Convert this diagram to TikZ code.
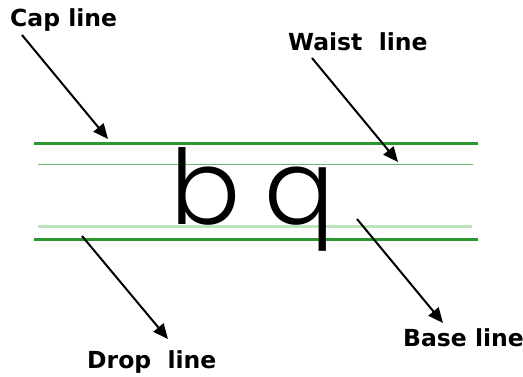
\documentclass[tikz,border=0pt]{standalone}
\usepackage{fontspec}
\setmainfont{DejaVu Sans}
\newfontfamily\letterfont{Poppins Light}
\usetikzlibrary{arrows.meta}
\definecolor{darkgr}{RGB}{46,150,46}
\definecolor{midgr}{RGB}{110,185,110}
\definecolor{palegr}{RGB}{190,228,190}
\tikzset{
  lbl/.style={font=\bfseries\fontsize{23.5}{23.5}\selectfont, inner sep=0pt, anchor=base west},
  pointer/.style={line width=2pt, -{Triangle[length=15pt,width=13pt]}},
  guide/.style={line width=3pt, darkgr},
  thin guide/.style={line width=1pt, midgr},
  pale guide/.style={line width=3pt, palegr},
  letter/.style={font=\letterfont\fontsize{104}{104}\selectfont, inner sep=0pt, anchor=base west}
}
\begin{document}
\begin{tikzpicture}[x=1pt,y=-1pt]
\useasboundingbox (0,0) rectangle (523,377);
% guide lines
\coordinate (capL) at (34,144); \coordinate (capR) at (478,144);
\coordinate (waiL) at (38,165); \coordinate (waiR) at (473,165);
\coordinate (basL) at (38,227); \coordinate (basR) at (472,227);
\coordinate (droL) at (34,240); \coordinate (droR) at (478,240);
\draw[thin guide] (waiL) -- (waiR);
\draw[pale guide] (basL) -- (basR);
\draw[guide] (capL) -- (capR);
\draw[guide] (droL) -- (droR);
% letters
\node[letter] (b) at (170,225) {b};
\node[letter] (q) at (264,225) {q};
% labels
\node[lbl] (cap) at (10,27) {Cap line};
\node[lbl] (waist) at (288,51) {Waist\ \ line};
\node[lbl] (drop) at (87,369) {Drop\ \ line};
\node[lbl] (base) at (403,347) {Base line};
% arrows
\coordinate (a1s) at (22,35);  \coordinate (a1e) at (108,139);
\coordinate (a2s) at (312,58); \coordinate (a2e) at (398,162);
\coordinate (a3s) at (82,236); \coordinate (a3e) at (168,339);
\coordinate (a4s) at (357,219); \coordinate (a4e) at (443,323);
\draw[pointer] (a1s) -- (a1e);
\draw[pointer] (a2s) -- (a2e);
\draw[pointer] (a3s) -- (a3e);
\draw[pointer] (a4s) -- (a4e);
\end{tikzpicture}
\end{document}
